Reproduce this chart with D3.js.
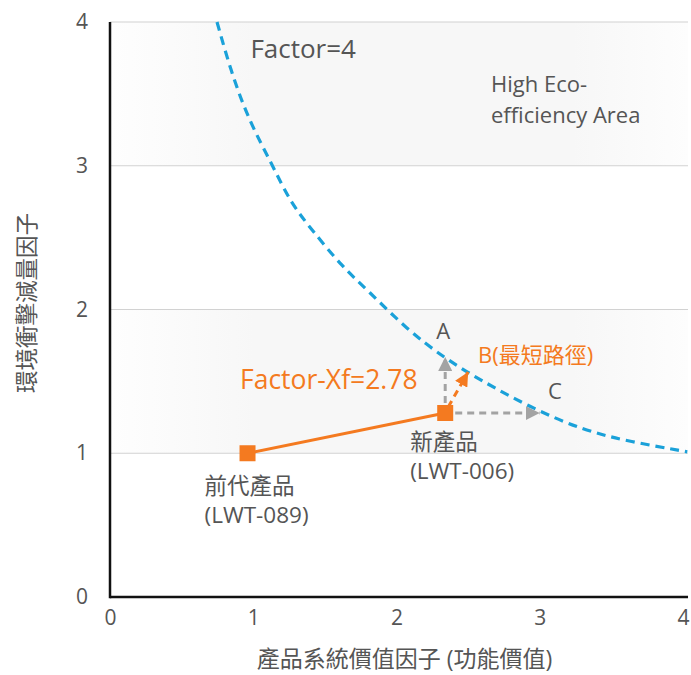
<!DOCTYPE html>
<html>
<head>
<meta charset="utf-8">
<script src="https://cdn.jsdelivr.net/npm/d3@7"></script>
<style>
  body { margin: 0; background: #fff; }
  text { font-family: "Open Sans", "Noto Sans CJK TC", sans-serif; }
</style>
</head>
<body>
<div id="chart"></div>
<script>
// values
const xTicks = [0, 1, 2, 3, 4];
const yTicks = [0, 1, 2, 3, 4];
const shadedBands = [[3, 4], [1, 2]];

// Factor=4 iso-line (hand drawn in the original)
const curveX = [0.747, 0.852, 0.977, 1.131, 1.257, 1.396, 1.627, 1.794, 2.073, 2.339, 2.583, 2.932, 3.302, 3.63, 4.03];
const curveY = [4.0, 3.63, 3.30, 3.01, 2.75, 2.57, 2.29, 2.14, 1.86, 1.66, 1.51, 1.32, 1.16, 1.08, 1.01];

const productNames = ["前代產品", "新產品"];
const productCodes = ["(LWT-089)", "(LWT-006)"];
const productX = [0.96, 2.34];
const productY = [1.0, 1.28];

const arrowNames = ["A", "B(最短路徑)", "C"];
const arrowX = [2.34, 2.5, 3.0];
const arrowY = [1.67, 1.565, 1.28];

const orange = "#f47a20";
const blue = "#1aa1d9";
const gray = "#a3a3a3";
const textGray = "#555";

const width = 691, height = 675;
const x = d3.scaleLinear().domain([0, 4]).range([110, 683]);
const y = d3.scaleLinear().domain([0, 4]).range([597, 22]);

const svg = d3.select("#chart").append("svg")
    .attr("width", width)
    .attr("height", height);

const defs = svg.append("defs");
const grad = defs.append("linearGradient").attr("id", "band");
grad.append("stop").attr("offset", "0").attr("stop-color", "#fefefe");
grad.append("stop").attr("offset", "0.25").attr("stop-color", "#f7f7f7");
grad.append("stop").attr("offset", "0.8").attr("stop-color", "#f7f7f7");
grad.append("stop").attr("offset", "1").attr("stop-color", "#fdfdfd");

[["arrowGray", gray], ["arrowOrange", orange]].forEach(([id, c]) => {
    defs.append("marker")
        .attr("id", id)
        .attr("viewBox", "0 0 10 10")
        .attr("refX", 10).attr("refY", 5)
        .attr("markerUnits", "userSpaceOnUse")
        .attr("markerWidth", 14).attr("markerHeight", 14)
        .attr("orient", "auto")
        .append("path")
        .attr("d", "M0,0L10,5L0,10Z")
        .attr("fill", c);
});

// shaded bands
svg.selectAll("rect.band")
    .data(shadedBands)
    .join("rect")
    .attr("class", "band")
    .attr("x", x(0))
    .attr("y", d => y(d[1]))
    .attr("width", x(4.035) - x(0))
    .attr("height", d => y(d[0]) - y(d[1]))
    .attr("fill", "url(#band)");

// grid lines
svg.selectAll("line.grid")
    .data(yTicks.filter(d => d > 0))
    .join("line")
    .attr("class", "grid")
    .attr("x1", x(0)).attr("x2", x(4.035))
    .attr("y1", d => y(d)).attr("y2", d => y(d))
    .attr("stroke", "#d2d2d2")
    .attr("stroke-width", 1.2);

// axes
const xAxis = svg.append("g")
    .attr("transform", `translate(0,${y(0)})`)
    .call(d3.axisBottom(x).tickValues(xTicks).tickFormat(d3.format("d")).tickSize(0).tickPadding(13));
const yAxis = svg.append("g")
    .attr("transform", `translate(${x(0)},0)`)
    .call(d3.axisLeft(y).tickValues(yTicks).tickFormat(d3.format("d")).tickSize(0).tickPadding(22));
[xAxis, yAxis].forEach(g => {
    g.select(".domain").remove();
    g.selectAll("text")
        .attr("font-size", 21)
        .attr("fill", textGray)
        .style("font-family", "'Open Sans', sans-serif");
});
svg.append("line")
    .attr("x1", x(0)).attr("x2", x(4.035))
    .attr("y1", y(0)).attr("y2", y(0))
    .attr("stroke", "#111").attr("stroke-width", 2.5);
svg.append("line")
    .attr("x1", x(0)).attr("x2", x(0))
    .attr("y1", y(0) + 1.2).attr("y2", y(4))
    .attr("stroke", "#111").attr("stroke-width", 2.5);

// axis titles
svg.append("text")
    .attr("x", (x(0) + x(4)) / 2 + 8)
    .attr("y", 667)
    .attr("text-anchor", "middle")
    .attr("font-size", 23)
    .attr("fill", textGray)
    .text("產品系統價值因子 (功能價值)");
svg.append("text")
    .attr("transform", `translate(35,${303}) rotate(-90)`)
    .attr("text-anchor", "middle")
    .attr("font-size", 22.5)
    .attr("fill", textGray)
    .text("環境衝擊減量因子");

// Factor=4 curve
const curvePts = curveX.map((v, i) => [v, curveY[i]]);
svg.append("path")
    .datum(curvePts)
    .attr("d", d3.line().x(d => x(d[0])).y(d => y(d[1])).curve(d3.curveBasis))
    .attr("fill", "none")
    .attr("stroke", blue)
    .attr("stroke-width", 3.2)
    .attr("stroke-dasharray", "9,6");

// improvement arrows from new product
const from = [productX[1], productY[1]];
arrowX.forEach((ax, i) => {
    const c = i === 1 ? orange : gray;
    svg.append("line")
        .attr("x1", x(from[0]) + (i === 2 ? 10 : i === 1 ? 3 : 0))
        .attr("y1", y(from[1]) - (i === 0 ? 10 : i === 1 ? 6 : 0))
        .attr("x2", x(ax))
        .attr("y2", y(arrowY[i]))
        .attr("stroke", c)
        .attr("stroke-width", 3)
        .attr("stroke-dasharray", "7,5")
        .attr("marker-end", `url(#${i === 1 ? "arrowOrange" : "arrowGray"})`);
});

// product line + markers
const prodPts = productX.map((v, i) => [v, productY[i]]);
svg.append("path")
    .datum(prodPts)
    .attr("d", d3.line().x(d => x(d[0])).y(d => y(d[1])))
    .attr("stroke", orange)
    .attr("stroke-width", 3)
    .attr("fill", "none");
svg.selectAll("rect.prod")
    .data(prodPts)
    .join("rect")
    .attr("class", "prod")
    .attr("x", d => x(d[0]) - 8)
    .attr("y", d => y(d[1]) - 8)
    .attr("width", 16)
    .attr("height", 16)
    .attr("fill", orange);

// product labels
const prodLabelOffset = [[-43, 41], [-35, 37]];
productNames.forEach((n, i) => {
    const t = svg.append("text")
        .attr("x", x(productX[i]) + prodLabelOffset[i][0])
        .attr("y", y(productY[i]) + prodLabelOffset[i][1])
        .attr("font-size", 22.5)
        .attr("fill", textGray);
    t.append("tspan").text(n);
    t.append("tspan")
        .attr("x", x(productX[i]) + prodLabelOffset[i][0])
        .attr("dy", 29)
        .text(productCodes[i]);
});

// arrow end labels
const arrowLabelPos = [[x(2.34) - 9, 339], [478, 363], [548, 399]];
arrowNames.forEach((n, i) => {
    svg.append("text")
        .attr("x", arrowLabelPos[i][0])
        .attr("y", arrowLabelPos[i][1])
        .attr("font-size", 22)
        .attr("fill", i === 1 ? orange : textGray)
        .text(n);
});

// annotations
svg.append("text")
    .attr("x", 240).attr("y", 389)
    .attr("font-size", 26.5)
    .attr("font-weight", 500)
    .attr("fill", orange)
    .text("Factor-Xf=2.78");

svg.append("text")
    .attr("x", x(0.98)).attr("y", y(3.75))
    .attr("font-size", 26)
    .attr("fill", textGray)
    .text("Factor=4");

const hi = svg.append("text")
    .attr("x", 491).attr("y", 92)
    .attr("font-size", 22)
    .attr("fill", textGray);
hi.append("tspan").text("High Eco-");
hi.append("tspan").attr("x", 491).attr("dy", 31).text("efficiency Area");
</script>
</body>
</html>
